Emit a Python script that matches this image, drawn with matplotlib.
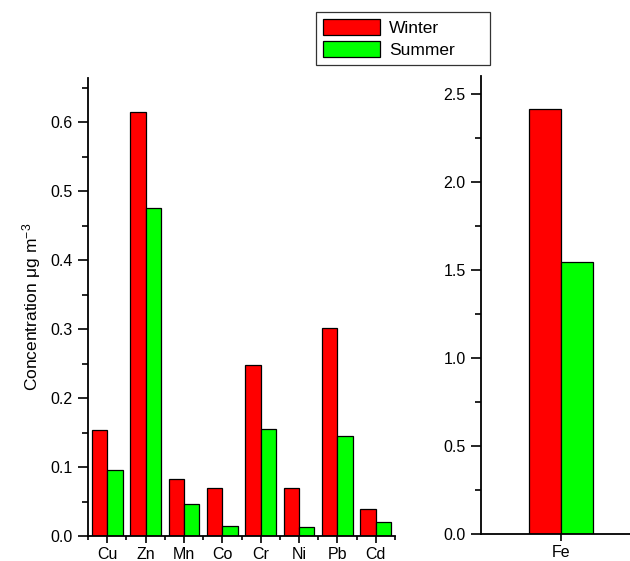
"""
Winter vs summer metal concentrations, Fe on its own axis because it is much larger
"""

import numpy as np
import matplotlib
matplotlib.use("Agg")
import matplotlib.pyplot as plt
from matplotlib.patches import Patch
from matplotlib.ticker import MultipleLocator, FixedLocator


plt.rcParams['font.family'] = ['Liberation Sans', 'DejaVu Sans']

# values
metals = ["Cu", "Zn", "Mn", "Co", "Cr", "Ni", "Pb", "Cd"]
winter = [0.154, 0.614, 0.082, 0.069, 0.248, 0.069, 0.301, 0.039]
summer = [0.096, 0.476, 0.046, 0.014, 0.155, 0.013, 0.145, 0.021]

fe_label = ["Fe"]
fe_winter = [2.41]
fe_summer = [1.541]

RED = "#ff0000"
GREEN = "#00ff00"
bar_w = 0.4


def style_axis(ax):
    for side in ("top", "right"):
        ax.spines[side].set_visible(False)
    for side in ("left", "bottom"):
        ax.spines[side].set_linewidth(1.3)
    ax.tick_params(axis="y", which="major", direction="out", length=7, width=1.2,
                   labelsize=11.5, pad=4)
    ax.tick_params(axis="y", which="minor", direction="out", length=4, width=1.2)
    ax.tick_params(axis="x", which="major", direction="out", length=5, width=1.2,
                   labelsize=11.5, pad=3)
    ax.tick_params(axis="x", which="minor", direction="out", length=3, width=1.2)


def main():
    fig = plt.figure(figsize=(6.3, 5.61), dpi=100)

    # left panel - all metals but Fe
    ax1 = fig.add_axes([88 / 630, 25 / 561, 307 / 630, 458 / 561])
    x = np.arange(len(metals))
    ax1.bar(x - bar_w / 2, winter, bar_w, color=RED, edgecolor="black", linewidth=0.9)
    ax1.bar(x + bar_w / 2, summer, bar_w, color=GREEN, edgecolor="black", linewidth=0.9)
    ax1.set_xlim(-0.5, len(metals) - 0.5)
    ax1.set_ylim(0, 0.664)
    ax1.set_xticks(x)
    ax1.set_xticklabels(metals)
    ax1.xaxis.set_minor_locator(FixedLocator(np.arange(-0.5, len(metals), 1.0)))
    ax1.yaxis.set_major_locator(MultipleLocator(0.1))
    ax1.yaxis.set_minor_locator(MultipleLocator(0.05))
    ax1.set_ylabel(r"Concentration $\mathregular{\mu g\ m^{-3}}$", fontsize=12.5, labelpad=5)
    style_axis(ax1)

    # right panel - Fe
    ax2 = fig.add_axes([481 / 630, 27.5 / 561, 160 / 630, 457.5 / 561])
    xf = np.arange(len(fe_label))
    ax2.bar(xf - bar_w / 2, fe_winter, bar_w, color=RED, edgecolor="black", linewidth=0.9)
    ax2.bar(xf + bar_w / 2, fe_summer, bar_w, color=GREEN, edgecolor="black", linewidth=0.9)
    ax2.set_xlim(-1, 1)
    ax2.set_ylim(0, 2.6)
    ax2.set_xticks(xf)
    ax2.set_xticklabels(fe_label)
    ax2.yaxis.set_major_locator(MultipleLocator(0.5))
    ax2.yaxis.set_minor_locator(MultipleLocator(0.25))
    ax2.yaxis.set_major_formatter(matplotlib.ticker.FormatStrFormatter("%.1f"))
    style_axis(ax2)

    # legend box sits above the gap between the panels
    handles = [Patch(facecolor=RED, edgecolor="black", linewidth=0.9, label="Winter"),
               Patch(facecolor=GREEN, edgecolor="black", linewidth=0.9, label="Summer")]
    leg = fig.legend(handles=handles, loc="upper left",
                     bbox_to_anchor=(316 / 630, 1 - 11.7 / 561, 174 / 630, 0.0),
                     mode="expand",
                     fontsize=12.5, frameon=True, fancybox=False,
                     handlelength=3.3, handleheight=1.05, handletextpad=0.5,
                     borderpad=0.4, labelspacing=0.3, borderaxespad=0)
    leg.get_frame().set_edgecolor("black")
    leg.get_frame().set_linewidth(0.9)

    fig.savefig("out.png", dpi=100)


if __name__ == '__main__':
    main()
